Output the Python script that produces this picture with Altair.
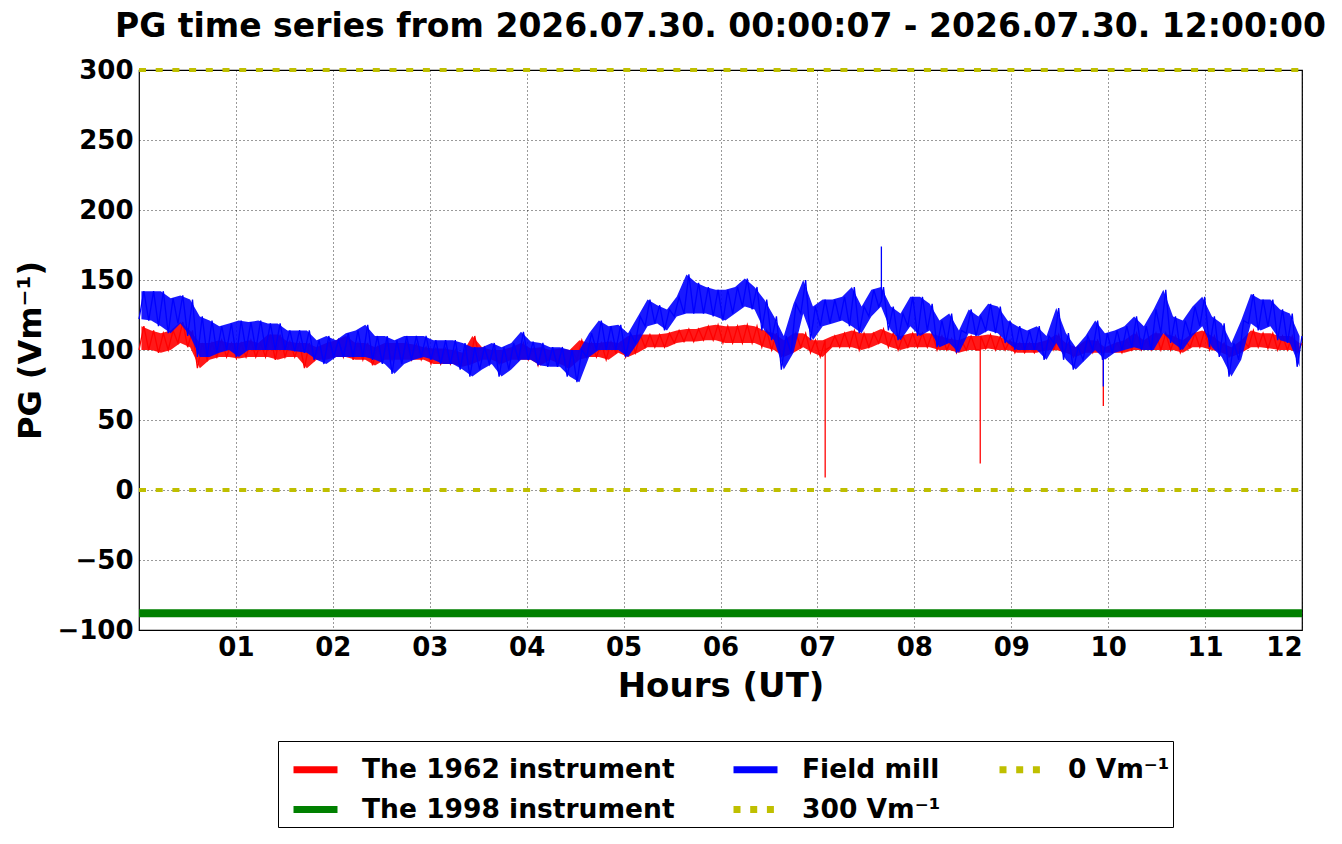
import altair as alt
import pandas as pd

# ---- values (PG, V/m) in 0.1-hour bins: low / high of the trace ----
red_lo = [100, 100, 98, 100, 105, 102, 87, 93, 95, 95, 94, 95, 95, 95, 93, 95, 95, 87, 93, 93,
          95, 95, 93, 93, 89, 93, 93, 93, 93, 93, 90, 90, 90, 88, 90, 93, 93, 90, 93, 93,
          93, 89, 93, 90, 87, 93, 95, 95, 93, 98, 95, 98, 102, 102, 102, 105, 106, 106, 107, 107,
          105, 105, 105, 105, 102, 100, 95, 98, 102, 98, 95, 102, 102, 102, 100, 102, 105, 102, 100, 102,
          102, 102, 100, 100, 98, 100, 100, 101, 100, 100, 98, 98, 98, 100, 100, 98, 95, 98, 98, 98,
          98, 98, 100, 100, 100, 100, 100, 98, 102, 102, 100, 98, 95, 98, 102, 102, 101, 100, 100, 98]
red_hi = [117, 114, 112, 114, 120, 114, 105, 105, 107, 105, 105, 107, 105, 111, 111, 106, 105, 105, 102, 105,
          107, 110, 105, 105, 102, 105, 105, 105, 104, 102, 101, 101, 100, 98, 110, 102, 100, 100, 102, 105,
          101, 102, 100, 101, 100, 107, 105, 105, 106, 105, 110, 111, 111, 111, 112, 114, 115, 115, 117, 118,
          117, 117, 118, 117, 114, 112, 107, 112, 112, 107, 107, 110, 112, 114, 112, 112, 115, 112, 110, 112,
          112, 112, 110, 108, 107, 110, 110, 111, 110, 107, 105, 105, 105, 107, 111, 105, 102, 107, 107, 102,
          105, 107, 112, 107, 112, 112, 110, 107, 112, 114, 110, 105, 102, 107, 114, 112, 112, 110, 110, 105]
blue_lo = [122, 121, 117, 112, 119, 110, 95, 95, 98, 100, 95, 100, 100, 100, 100, 100, 99, 98, 93, 90,
           95, 95, 95, 95, 93, 90, 83, 90, 93, 95, 93, 90, 90, 86, 81, 86, 90, 81, 86, 93,
           93, 89, 88, 88, 81, 77, 95, 100, 100, 100, 95, 105, 117, 119, 114, 124, 126, 126, 126, 124,
           121, 126, 131, 129, 114, 107, 86, 98, 126, 107, 117, 119, 121, 117, 112, 124, 131, 114, 107, 117,
           110, 114, 102, 105, 98, 112, 110, 114, 112, 105, 100, 100, 100, 93, 105, 93, 86, 93, 100, 93,
           98, 100, 102, 100, 100, 112, 105, 100, 110, 117, 102, 95, 81, 93, 119, 114, 117, 107, 105, 88]
blue_hi = [142, 142, 142, 137, 139, 136, 124, 121, 117, 119, 121, 120, 121, 119, 119, 114, 114, 114, 107, 110,
           107, 112, 114, 118, 110, 110, 107, 110, 110, 110, 107, 107, 107, 105, 102, 102, 105, 102, 105, 113,
           106, 105, 102, 102, 100, 100, 112, 121, 117, 118, 112, 124, 136, 132, 129, 138, 154, 148, 145, 143,
           143, 145, 151, 145, 136, 124, 110, 133, 150, 131, 136, 136, 138, 145, 131, 143, 145, 131, 126, 138,
           138, 133, 121, 126, 114, 129, 124, 133, 131, 121, 117, 114, 117, 110, 130, 112, 102, 110, 121, 112,
           114, 117, 124, 117, 129, 143, 124, 121, 131, 138, 124, 119, 105, 121, 140, 136, 136, 129, 126, 110]

# isolated spikes: time (h), extreme value, level of trace around it
red_spike_t = [7.08, 8.68, 9.95]
red_spike_v = [9, 19, 60]
red_spike_base = [100, 100, 98]
blue_spike_t = [7.66, 9.95]
blue_spike_v = [174, 74]
blue_spike_base = [135, 95]

# constant reference lines
flat_names = ["The 1998 instrument", "300 Vm⁻¹", "0 Vm⁻¹"]
flat_values = [-88, 300, 0]
flat_span = [0, 12]

series_names = ["The 1962 instrument", "The 1998 instrument", "Field mill", "300 Vm⁻¹", "0 Vm⁻¹"]
series_colors = ["#ff0000", "#008000", "#0000ff", "#bfbf00", "#bfbf00"]
series_dash = [[1, 0], [1, 0], [1, 0], [7, 9.7], [7, 9.7]]

x_ticks = list(range(1, 13))
y_ticks = list(range(-100, 301, 50))

title_text = "PG time series from 2026.07.30. 00:00:07 - 2026.07.30. 12:00:00"

# ---- build tables ----
rows = []
band_rows = []


def add_series(name, lo, hi, st, sv, sb):
    n = 2 * len(lo)
    pts = []
    for i, (l, h) in enumerate(zip(lo, hi)):
        pts.append((12.0 * (2 * i) / (n - 1), l, 0))
        pts.append((12.0 * (2 * i + 1) / (n - 1), h, 0))
        band_rows.append({"series": name, "hour": 12.0 * (2 * i + 0.5) / (n - 1), "lo": l, "hi": h})
    for t, v, b in zip(st, sv, sb):
        pts += [(t, b, 1), (t, v, 2), (t, b, 3)]
    pts.sort(key=lambda p: (p[0], p[2]))
    for k, (t, v, _) in enumerate(pts):
        rows.append({"series": name, "hour": t, "pg": v, "order": k})


add_series("The 1962 instrument", red_lo, red_hi, red_spike_t, red_spike_v, red_spike_base)
add_series("Field mill", blue_lo, blue_hi, blue_spike_t, blue_spike_v, blue_spike_base)
ts = pd.DataFrame(rows)
band = pd.DataFrame(band_rows)

flat_rows = []
for nm, v in zip(flat_names, flat_values):
    for k, t in enumerate(flat_span):
        flat_rows.append({"series": nm, "hour": t, "pg": v, "order": k})
flat = pd.DataFrame(flat_rows)

FONT = "DejaVu Sans"

legend = alt.Legend(
    title=None, orient="none", legendX=139, legendY=671, columns=3,
    symbolType="stroke", symbolSize=1936, symbolStrokeWidth=7, symbolOffset=9,
    labelFont=FONT, labelFontWeight="bold", labelFontSize=26.5, labelColor="black",
    labelOffset=21, labelLimit=500, columnPadding=44, rowPadding=0,
    padding=3, strokeColor="black", fillColor="white",
)

xs = alt.Scale(domain=[0, 12], nice=False, zero=False)
ys = alt.Scale(domain=[-100, 300], nice=False, zero=False)
x = alt.X("hour:Q", scale=xs,
          axis=alt.Axis(values=x_ticks, title="Hours (UT)",
                        labelExpr="datum.value < 10 ? '0' + datum.value : '' + datum.value"))
y = alt.Y("pg:Q", scale=ys, axis=alt.Axis(values=y_ticks, title="PG (Vm⁻¹)"))
color = alt.Color("series:N", scale=alt.Scale(domain=series_names, range=series_colors), legend=legend)
dash = alt.StrokeDash("series:N", scale=alt.Scale(domain=series_names, range=series_dash), legend=legend)


def band_layer(name, col):
    return alt.Chart(band).transform_filter(alt.datum.series == name).mark_area(
        color=col, opacity=0.9).encode(x=alt.X("hour:Q", scale=xs), y=alt.Y("lo:Q", scale=ys),
                                       y2="hi:Q")


def trace_layer(name):
    return alt.Chart(ts).transform_filter(alt.datum.series == name).mark_line(strokeWidth=1.3).encode(
        x=x, y=y, color=color, strokeDash=dash, order="order:Q")


green = alt.Chart(flat).transform_filter(alt.datum.series == "The 1998 instrument").mark_line(
    strokeWidth=8, strokeCap="butt").encode(x=x, y=y, color=color, strokeDash=dash, order="order:Q")
yellow = alt.Chart(flat).transform_filter(alt.datum.series != "The 1998 instrument").mark_line(
    strokeWidth=4, strokeCap="butt").encode(x=x, y=y, color=color, strokeDash=dash, order="order:Q")

chart = alt.layer(
    band_layer("The 1962 instrument", "#ff0000"), trace_layer("The 1962 instrument"),
    band_layer("Field mill", "#0000ff"), trace_layer("Field mill"),
    green, yellow,
).properties(
    width=1163, height=560,
    autosize=alt.AutoSizeParams(type="none"),
    padding={"left": 131, "top": 62, "right": 32, "bottom": 205},
    title=alt.Title(title_text, font=FONT, fontSize=33, fontWeight="bold", color="black",
                    anchor="middle", offset=13),
).configure_view(
    stroke="black", strokeWidth=1.2
).configure_axis(
    labelFont=FONT, labelFontWeight="bold", labelFontSize=26, labelColor="black",
    titleFont=FONT, titleFontWeight="bold", titleColor="black",
    domain=False, ticks=False, grid=True, gridColor="black", gridDash=[1, 3], gridWidth=0.8,
    gridOpacity=1,
).configure_axisX(labelPadding=4, titlePadding=9, titleFontSize=34).configure_axisY(
    labelPadding=6, titlePadding=9, titleFontSize=32)

chart.save("out.html", embed_options={"renderer": "svg", "actions": False})
